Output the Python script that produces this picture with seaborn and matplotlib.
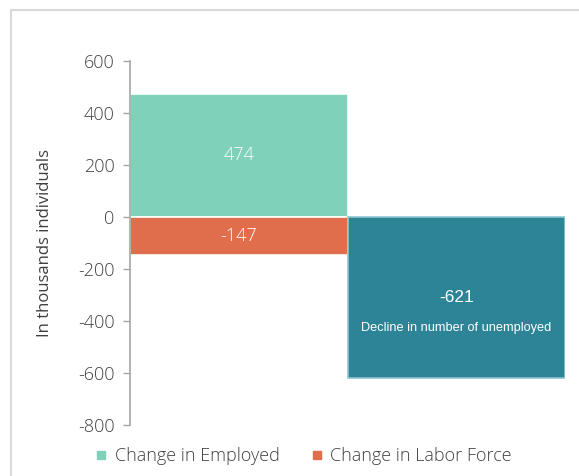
import matplotlib
matplotlib.use("Agg")
import matplotlib.pyplot as plt
import pandas as pd
import seaborn as sns
from matplotlib.lines import Line2D
from matplotlib.patches import Rectangle

# data
categories = ["Labor market", "Unemployment"]
series = ["Change in Employed", "Change in Labor Force", "Decline in number of unemployed"]
bar_category = ["Labor market", "Labor market", "Unemployment"]
values = [474, -147, -621]
colors = ["#80D1B9", "#E06D4B", "#2E8497"]
yticks = [-800, -600, -400, -200, 0, 200, 400, 600]

df = pd.DataFrame({"category": bar_category, "series": series, "value": values})

sns.set_theme(style="white")
plt.rcParams["font.family"] = ["Open Sans", "DejaVu Sans"]
plt.rcParams["font.weight"] = "light"

fig = plt.figure(figsize=(5.79, 4.76), dpi=100)
ax = fig.add_axes([130 / 579, 1 - 425 / 476, 435 / 579, 364 / 476])

sns.barplot(data=df, x="category", y="value", hue="series", order=categories,
            hue_order=series, palette=colors, saturation=1, dodge=False, width=1.0,
            edgecolor="white", linewidth=1.2, legend=False, ax=ax)

ax.set_xlim(-0.5, 1.5)
ax.set_ylim(-800, 600)
ax.set_yticks(yticks)
ax.set_yticklabels([str(t) for t in yticks], fontsize=13, color="#404040")
ax.set_xticks([])
ax.set_xlabel("")
ax.set_ylabel("In thousands individuals", fontsize=12, color="#404040", labelpad=18)
ax.tick_params(axis="y", length=5, width=1, color="#A6A6A6", direction="out", left=True, pad=6)
for side in ["top", "right", "bottom"]:
    ax.spines[side].set_visible(False)
ax.spines["left"].set_color("#A6A6A6")
ax.spines["left"].set_linewidth(1.2)

# value labels in the middle of each bar
for bar in ax.patches:
    h = bar.get_height()
    if h == 0:
        continue
    cx = bar.get_x() + bar.get_width() / 2
    cy = bar.get_y() + h / 2
    if h < -500:
        bar.set_edgecolor("#8CC6D3")
        ax.text(cx, cy, f"{h:.0f}", ha="center", va="center", color="white",
                fontsize=12.5, family="Liberation Sans")
        ax.text(cx, cy - 116, "Decline in number of unemployed", ha="center", va="center",
                color="white", fontsize=9.2, family="Liberation Sans")
    else:
        ax.text(cx, cy, f"{h:.0f}", ha="center", va="center", color="white", fontsize=13)

handles = [Line2D([], [], marker="s", linestyle="", color=c, markersize=6) for c in colors[:2]]
fig.legend(handles, series[:2], loc="center", bbox_to_anchor=(0.524, 0.042), ncol=2,
           frameon=False, fontsize=13, handlelength=0.7, handletextpad=0.4, columnspacing=1.7,
           labelcolor="#404040")

# outer frame of the chart area
fig.patches.append(Rectangle((11 / 579, -0.1), 1.2, 1 - 10 / 476 + 0.1, transform=fig.transFigure,
                             fill=False, edgecolor="#D9D9D9", linewidth=1.5, zorder=-1))

fig.savefig("out.png", dpi=100)
